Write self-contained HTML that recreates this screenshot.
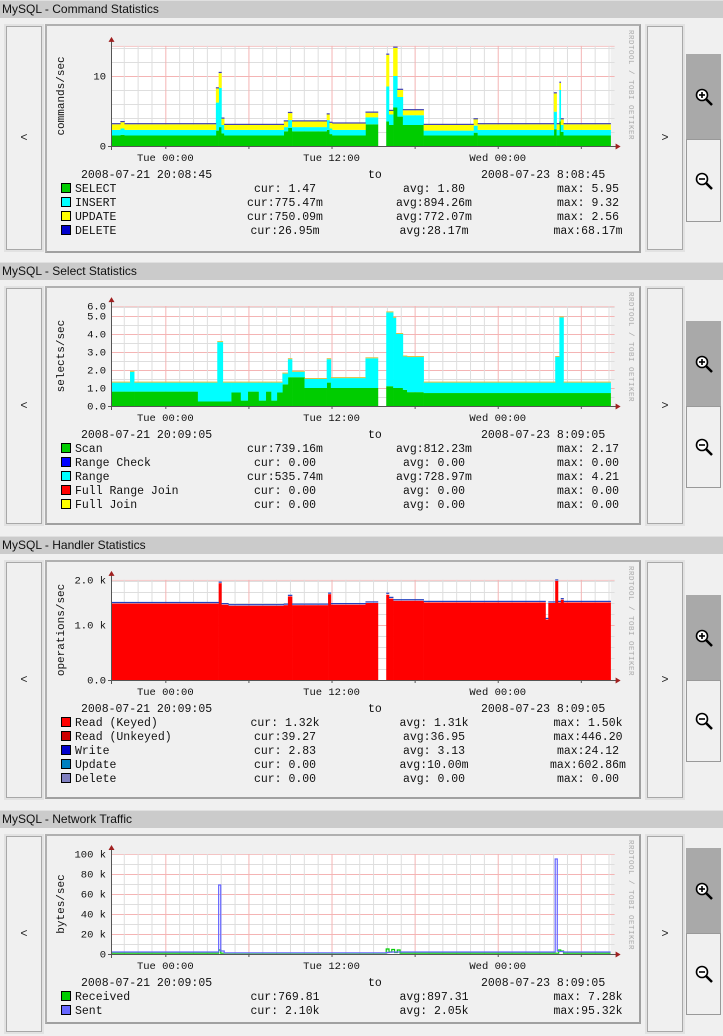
<!DOCTYPE html>
<html><head><meta charset="utf-8">
<style>
body{margin:0;width:723px;height:1036px;background:#f0f0f0;position:relative;overflow:hidden;font-family:"Liberation Sans",sans-serif}
.panel{position:absolute;left:0;width:723px}
.tbar{position:absolute;left:0;top:0;width:723px;height:18px;background:#cbcbcb;border-top:1px solid #e0e0e0;box-sizing:border-box;font-size:12px;line-height:17px;padding-left:2px;color:#111}
.btn{position:absolute;width:34px;background:#f0f0f0;border:1px solid #a8a8a8;box-shadow:0 0 0 2px #e2e2e2;font-family:"Liberation Mono",monospace;font-size:12px;display:flex;align-items:center;justify-content:center;color:#222}
.box{position:absolute;left:45px;width:592px;background:#f0f0f0;border:2px solid #b0b0b0;border-right-color:#a0a0a0;border-bottom-color:#a0a0a0}
.zc{position:absolute;left:686px;width:34px}
.zin{position:absolute;left:0;top:0;width:35px;background:#a9a9a9;display:flex;align-items:center;justify-content:center}
.zout{position:absolute;left:0;width:33px;background:#f0f0f0;border:1px solid #999;display:flex;align-items:center;justify-content:center}
svg text{font-family:"Liberation Mono",monospace}
</style></head><body>
<div id="root"></div>
<script>
// ---------- Command statistics ----------
const cmdTimes=[0,0.6,0.9,7.5,7.7,7.9,8.1,12.4,12.7,13.0,15.5,15.7,15.9,18.3,19.2,19.8,20.0,20.3,20.6,21.0,22.5,26.1,26.4,31.9,32.1,32.3,32.4,32.6,36];
const cmdSelect=[1.5,1.6,1.5,2.2,2.7,1.8,1.5,2.1,2.6,2.1,2.3,1.7,1.5,3.1,null,3.5,3.0,5.5,4.2,3.0,1.5,1.9,1.5,2.4,1.5,3.5,2.0,1.5];
const cmdInsert=[0.8,0.9,0.8,4.0,5.6,1.2,0.8,0.6,1.1,0.6,1.4,0.8,0.8,1.0,null,5.0,1.5,4.5,2.8,1.4,0.7,1.0,0.8,2.5,0.8,4.5,1.0,0.8];
const cmdUpdate=[0.8,0.9,0.8,2.0,2.1,0.9,0.7,0.8,1.0,0.8,0.8,0.8,0.9,0.65,null,4.5,0.5,4.0,1.0,0.7,0.8,0.9,0.8,2.6,0.8,1.0,0.8,0.8];
const cmdDelete=[0.03,0.03,0.03,0.05,0.05,0.03,0.03,0.03,0.03,0.03,0.03,0.03,0.03,0.03,null,0.06,0.03,0.06,0.04,0.03,0.03,0.03,0.03,0.04,0.03,0.05,0.03,0.03];
const cmdTicks=[0,10];
const cmdTickLabels=["0","10"];
// ---------- Select statistics ----------
const selTimes=[0,1.3,1.6,6.2,7.6,8.0,8.6,9.3,9.8,10.6,11.1,11.5,11.9,12.3,12.7,13.0,13.9,15.5,15.8,18.3,19.2,19.8,20.3,20.5,21.0,21.3,22.5,32.0,32.3,32.6,36];
const selScan=[0.8,0.8,0.8,0.25,0.25,0.25,0.75,0.3,0.8,0.3,0.8,0.3,0.75,1.2,1.6,1.6,1.0,1.3,1.0,1.0,null,1.1,1.0,1.0,0.9,0.77,0.72,0.72,0.72,0.72];
const selRange=[0.5,1.1,0.5,1.05,3.3,1.05,0.55,1.0,0.5,1.0,0.5,1.0,0.55,0.6,1.0,0.3,0.5,1.3,0.55,1.65,null,4.1,3.9,3.0,1.85,1.95,0.58,2.0,4.2,0.58];
const selTicks=[0,1,2,3,4,5,5.55];
const selTickLabels=["0.0","1.0","2.0","3.0","4.0","5.0","6.0"];
// ---------- Handler statistics (k) ----------
const hTimes=[0,7.7,7.9,8.4,12.4,12.7,13.0,15.6,15.8,18.3,19.2,19.8,20.0,20.3,22.5,31.3,31.5,32.0,32.2,32.4,32.6,36];
const hRead=[1.39,1.76,1.37,1.35,1.36,1.52,1.36,1.56,1.37,1.40,null,1.55,1.48,1.44,1.41,1.10,1.40,1.80,1.41,1.46,1.41];
const hWrite=[0.012,0.012,0.012,0.012,0.012,0.012,0.012,0.012,0.012,0.012,null,0.02,0.015,0.012,0.012,0.012,0.012,0.012,0.012,0.012,0.012];
const hTicks=[0,1,1.82];
const hTickLabels=["0.0","1.0 k","2.0 k"];
// ---------- Network traffic (k) ----------
const nTimes=[0,7.7,7.85,8.1,19.8,20.0,20.2,20.4,20.6,20.8,32.0,32.15,32.25,32.4,32.6,36];
const nSent=[2.0,69,3,1.2,1.5,1.8,2.0,2.0,2.0,2.0,95,3,2.5,2.5,2.0];
const nRecv=[0.8,4,0.8,0.8,5,2,4.5,1.5,4,0.8,0.8,0.8,4,3,0.8];
const nTicks=[0,20,40,60,80,100];
const nTickLabels=["0","20 k","40 k","60 k","80 k","100 k"];
const xTickHours=[3.85,15.85,27.85];
const xTickLabels=["Tue 00:00","Tue 12:00","Wed 00:00"];

const NS="http://www.w3.org/2000/svg";
const X0=112,PXH=13.85;
function xs(t){return X0+t*PXH;}
function mk(tag,attrs,parent){const e=document.createElementNS(NS,tag);for(const k in attrs)e.setAttribute(k,attrs[k]);if(parent)parent.appendChild(e);return e;}

const panels=[
 {top:0,title:"MySQL - Command Statistics",boxH:225,zero:146,ppu:7,topV:14.3,minor:2,major:10,ylab:"commands/sec",ticks:cmdTicks,tl:cmdTickLabels,
  times:cmdTimes,stack:[[cmdSelect,"#00cc00"],[cmdInsert,"#00ffff"],[cmdUpdate,"#ffff00"],[cmdDelete,"#4040b0"]],
  from:"2008-07-21 20:08:45",to:"2008-07-23 8:08:45",dateY:174,rowY:188,btnH:224,zTop:54,zIn:85,zOut:83,
  legend:[["SELECT","#00cc00","cur: 1.47","avg: 1.80","max: 5.95"],["INSERT","#00ffff","cur:775.47m","avg:894.26m","max: 9.32"],["UPDATE","#ffff00","cur:750.09m","avg:772.07m","max: 2.56"],["DELETE","#0000cc","cur:26.95m","avg:28.17m","max:68.17m"]]},
 {top:262,title:"MySQL - Select Statistics",boxH:235,zero:144,ppu:18,topV:5.55,minor:0.5,major:1,ylab:"selects/sec",ticks:selTicks,tl:selTickLabels,
  times:selTimes,stack:[[selScan,"#00cc00"],[selRange,"#00ffff"]],topline:"#e0c040",
  from:"2008-07-21 20:09:05",to:"2008-07-23 8:09:05",dateY:172,rowY:186,btnH:236,zTop:59,zIn:85,zOut:82,
  legend:[["Scan","#00cc00","cur:739.16m","avg:812.23m","max: 2.17"],["Range Check","#0000ff","cur: 0.00","avg: 0.00","max: 0.00"],["Range","#00ffff","cur:535.74m","avg:728.97m","max: 4.21"],["Full Range Join","#ff0000","cur: 0.00","avg: 0.00","max: 0.00"],["Full Join","#ffff00","cur: 0.00","avg: 0.00","max: 0.00"]]},
 {top:536,title:"MySQL - Handler Statistics",boxH:235,zero:144,ppu:55,topV:1.82,minor:0.2,major:1,ylab:"operations/sec",ticks:hTicks,tl:hTickLabels,
  times:hTimes,stack:[[hRead,"#ff0000"],[hWrite,"#2040c0"]],
  from:"2008-07-21 20:09:05",to:"2008-07-23 8:09:05",dateY:172,rowY:186,btnH:236,zTop:59,zIn:85,zOut:82,
  legend:[["Read (Keyed)","#ff0000","cur: 1.32k","avg: 1.31k","max: 1.50k"],["Read (Unkeyed)","#cc0000","cur:39.27","avg:36.95","max:446.20"],["Write","#0000cc","cur: 2.83","avg: 3.13","max:24.12"],["Update","#0080c0","cur: 0.00","avg:10.00m","max:602.86m"],["Delete","#8080c0","cur: 0.00","avg: 0.00","max: 0.00"]]},
 {top:810,title:"MySQL - Network Traffic",boxH:186,zero:144,ppu:1,topV:100,minor:10,major:20,ylab:"bytes/sec",ticks:nTicks,tl:nTickLabels,
  times:nTimes,lines:[[nRecv,"#00cc00"],[nSent,"#6666ff"]],
  from:"2008-07-21 20:09:05",to:"2008-07-23 8:09:05",dateY:172,rowY:186,btnH:196,zTop:38,zIn:85,zOut:82,
  legend:[["Received","#00cc00","cur:769.81","avg:897.31","max: 7.28k"],["Sent","#6666ff","cur: 2.10k","avg: 2.05k","max:95.32k"]]}
];

const root=document.getElementById('root');
panels.forEach((p,pi)=>{
  const pd=document.createElement('div');pd.className='panel';pd.style.top=p.top+'px';pd.style.height=(p.boxH+30)+'px';
  
  root.appendChild(pd);
  const tb=document.createElement('div');tb.className='tbar';tb.textContent=p.title;
  pd.appendChild(tb);
  const lb=document.createElement('div');lb.className='btn';lb.style.left='6px';lb.style.top='26px';lb.style.height=(p.btnH-2)+'px';lb.textContent='<';
  pd.appendChild(lb);
  const rb=document.createElement('div');rb.className='btn';rb.style.left='647px';rb.style.top='26px';rb.style.height=(p.btnH-2)+'px';rb.textContent='>';
  pd.appendChild(rb);
  const bx=document.createElement('div');bx.className='box';bx.style.top='24px';bx.style.height=p.boxH+'px';
  pd.appendChild(bx);
  const zc=document.createElement('div');zc.className='zc';zc.style.top=p.zTop+'px';zc.style.height=(p.zIn+p.zOut)+'px';pd.appendChild(zc);
  
  const zi=document.createElement('div');zi.className='zin';zi.style.height=p.zIn+'px';
  zi.innerHTML='<svg width="20" height="20"><circle cx="8" cy="8" r="5.5" fill="#fff" stroke="#000" stroke-width="1.6"/><line x1="12" y1="12" x2="18" y2="18" stroke="#000" stroke-width="2.5"/><line x1="5" y1="8" x2="11" y2="8" stroke="#000" stroke-width="1.6"/><line x1="8" y1="5" x2="8" y2="11" stroke="#000" stroke-width="1.6"/></svg>';
  zc.appendChild(zi);
  const zo=document.createElement('div');zo.className='zout';zo.style.top=p.zIn+'px';zo.style.height=(p.zOut-2)+'px';
  zo.innerHTML='<svg width="20" height="20"><circle cx="8" cy="8" r="5.5" fill="#fff" stroke="#000" stroke-width="1.6"/><line x1="12" y1="12" x2="18" y2="18" stroke="#000" stroke-width="2.5"/><line x1="5" y1="8" x2="11" y2="8" stroke="#000" stroke-width="1.6"/></svg>';
  zc.appendChild(zo);

  const svg=mk('svg',{width:723,height:p.boxH+30,style:'position:absolute;left:0;top:0'},pd);
  
  
  const ys=v=>p.zero-v*p.ppu;
  const yTop=ys(p.topV), xEnd=xs(36);
  mk('rect',{x:X0,y:yTop,width:xEnd-X0,height:p.zero-yTop,fill:'#fff'},svg);
  for(let v=p.minor;v<=p.topV+1e-6;v+=p.minor){
    const isMaj=Math.abs(v/p.major-Math.round(v/p.major))<1e-6;
    mk('line',{x1:X0,x2:xEnd+4,y1:ys(v)+0.5,y2:ys(v)+0.5,stroke:isMaj?'#f4b4b4':'#dedede','stroke-width':1},svg);
  }
  mk('line',{x1:X0,x2:xEnd+4,y1:yTop+0.5,y2:yTop+0.5,stroke:'#f4c4c4'},svg);
  for(let h=Math.ceil(-3.85);3.85+h<=36.2;h++){
    const t=3.85+h; if(t<0)continue;
    const maj=((h%6)+6)%6===0;
    mk('line',{x1:xs(t)+0.5,x2:xs(t)+0.5,y1:yTop,y2:p.zero,stroke:maj?'#f4b4b4':'#dedede'},svg);
  }
  const T=p.times;
  if(p.stack){
    const base=new Array(T.length-1).fill(0);
    p.stack.forEach(([vals,col],si)=>{
      const g=mk('g',{},svg);
      
      
      for(let i=0;i<T.length-1;i++){
        const v=vals[i]; if(v===null||v===undefined)continue;
        const y0=ys(base[i]), y1=ys(base[i]+v);
        const isLine=(si===p.stack.length-1&&si>0&&v*p.ppu<1.5);
        mk('rect',{x:xs(T[i]),y:isLine?y1-1:y1,width:xs(T[i+1])-xs(T[i])+0.3,height:isLine?1.2:Math.max(0,y0-y1),fill:col},g);
        base[i]+=v;
      }
    });
    if(p.topline){for(let i=0;i<T.length-1;i++){if(p.stack[0][0][i]===null)continue;mk('rect',{x:xs(T[i]),y:ys(base[i])-1,width:xs(T[i+1])-xs(T[i])+0.3,height:1,fill:p.topline},svg);}}
  }
  if(p.lines){
    p.lines.forEach(([vals,col],si)=>{
      let d='';
      for(let i=0;i<T.length-1;i++){const y=ys(vals[i]);d+=(i?'L':'M')+xs(T[i])+','+y+'L'+xs(T[i+1])+','+y;}
      const path=mk('path',{d:d,fill:'none',stroke:col,'stroke-width':1.2},svg);
      
      
    });
  }
  mk('line',{x1:X0-0.5,x2:X0-0.5,y1:yTop-6,y2:p.zero+4,stroke:'#555'},svg);
  mk('line',{x1:X0-4,x2:xEnd+6,y1:p.zero+0.5,y2:p.zero+0.5,stroke:'#555'},svg);
  mk('path',{d:`M${X0-3.5},${yTop-4}L${X0+2.5},${yTop-4}L${X0-0.5},${yTop-9}Z`,fill:'#a02020'},svg);
  mk('path',{d:`M${xEnd+5},${p.zero-2.5}L${xEnd+5},${p.zero+3.5}L${xEnd+10},${p.zero+0.5}Z`,fill:'#a02020'},svg);
  for(let h=0;3.85+h<=36;h+=6){mk('line',{x1:xs(3.85+h)+0.5,x2:xs(3.85+h)+0.5,y1:p.zero,y2:p.zero+3,stroke:'#555'},svg);}
  p.ticks.forEach((v,i)=>{const t=mk('text',{x:106,y:ys(v)+3.5,'text-anchor':'end','font-size':'10.5px',fill:'#111'},svg);t.textContent=p.tl[i];});
  xTickHours.forEach((h,i)=>{const t=mk('text',{x:xs(h),y:p.zero+15,'text-anchor':'middle','font-size':'10.5px',fill:'#111'},svg);t.textContent=xTickLabels[i];});
  const yl=mk('text',{x:0,y:0,transform:`translate(64,${(yTop+p.zero)/2}) rotate(-90)`,'text-anchor':'middle','font-size':'11px',fill:'#111'},svg);yl.textContent=p.ylab;
  const wm=mk('text',{x:0,y:0,transform:`translate(629,30) rotate(90)`,'font-size':'7.5px',fill:'#aaa','letter-spacing':'0.5'},svg);wm.textContent='RRDTOOL / TOBI OETIKER';
  const d1=mk('text',{x:81,y:p.dateY+4,'font-size':'11.5px',fill:'#111'},svg);d1.textContent=p.from;
  const d2=mk('text',{x:368,y:p.dateY+4,'font-size':'11.5px',fill:'#111'},svg);d2.textContent='to';
  const d3=mk('text',{x:481,y:p.dateY+4,'font-size':'11.5px',fill:'#111'},svg);d3.textContent=p.to;
  p.legend.forEach((L,i)=>{
    const y=p.rowY+i*14;
    const g=mk('g',{},svg);
    
    
    mk('rect',{x:61.5,y:y-4.5,width:9,height:9,fill:L[1],stroke:'#000'},g);
    const a=mk('text',{x:75,y:y+4,'font-size':'11.5px',fill:'#111'},g);a.textContent=L[0];
    const b=mk('text',{x:285,y:y+4,'text-anchor':'middle','font-size':'11.5px',fill:'#111'},g);b.textContent=L[2];
    const c=mk('text',{x:434,y:y+4,'text-anchor':'middle','font-size':'11.5px',fill:'#111'},g);c.textContent=L[3];
    const e=mk('text',{x:588,y:y+4,'text-anchor':'middle','font-size':'11.5px',fill:'#111'},g);e.textContent=L[4];
  });
});
</script>
</body></html>
